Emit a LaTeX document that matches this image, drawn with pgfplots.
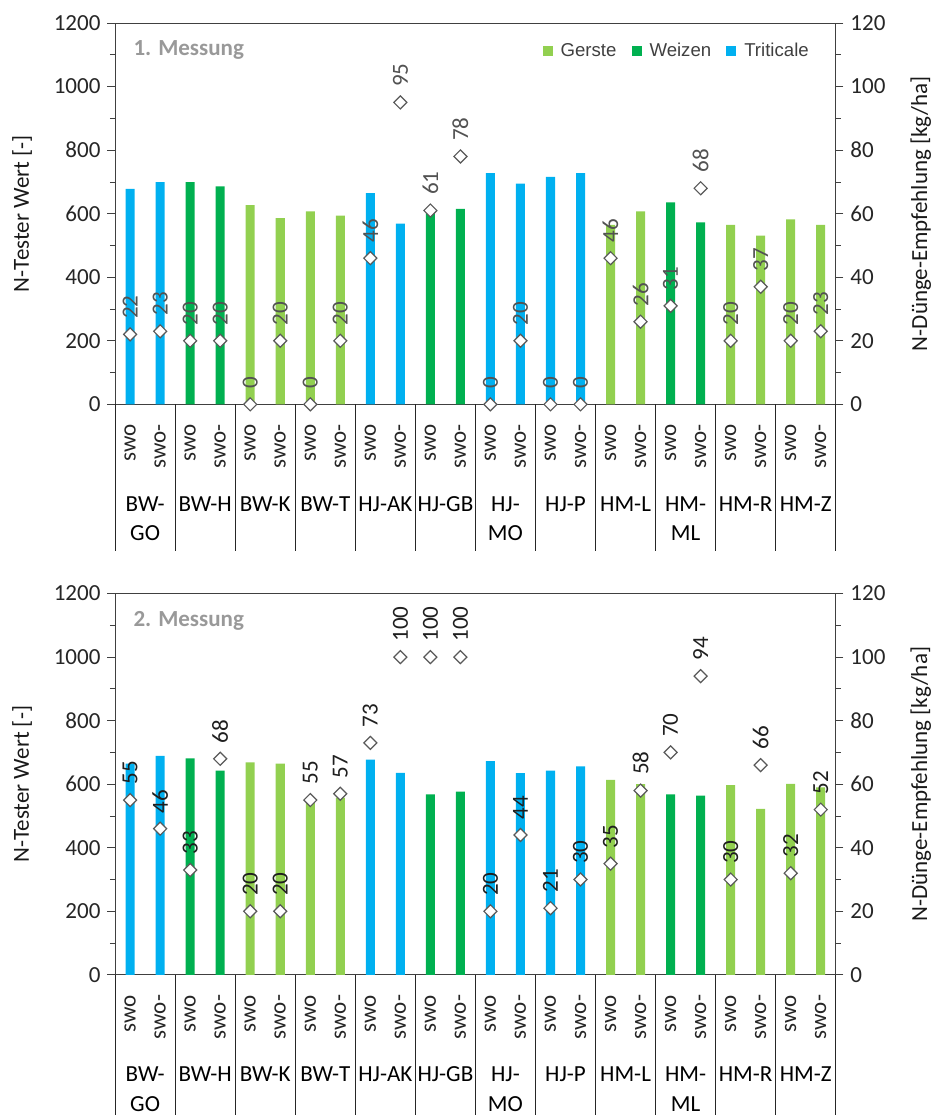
\documentclass[border=0pt]{standalone}
\usepackage{fontspec}
\setmainfont{Carlito}
\newfontfamily\legfont{Liberation Sans}
\usepackage{pgfplots}
\pgfplotsset{compat=1.18}

\definecolor{gerste}{HTML}{92D050}
\definecolor{weizen}{HTML}{00B050}
\definecolor{triti}{HTML}{00B0F0}

\newcommand\fs{\fontsize{11.5pt}{13.8pt}\selectfont}

\pgfplotsset{
  base/.style={
    scale only axis, width=360pt, height=190.5pt,
    xmin=0.5, xmax=24.5, clip=false,
    /pgf/number format/assume math mode=true,
    /pgf/number format/1000 sep={},
    tick label style={font=\fs, text=black!85},
    label style={font=\fs, text=black!90},
    tick align=outside,
    major tick length=3.8pt, minor tick length=2.6pt,
    axis line style={black!75},
    every tick/.style={black!75},
  },
  prim/.style={base,
    ymin=0, ymax=1200, ytick={0,200,...,1200}, minor y tick num=1,
    ytick pos=left, xtick pos=bottom,
    xtick={1,...,24},
    xticklabels={swo,swo-,swo,swo-,swo,swo-,swo,swo-,swo,swo-,swo,swo-,swo,swo-,swo,swo-,swo,swo-,swo,swo-,swo,swo-,swo,swo-},
    xtick style={draw=none},
    xticklabel style={rotate=90, anchor=east, inner xsep=6pt},
    ylabel={N-Tester Wert [-]},
    ylabel style={at={(axis description cs:-0.129,0.5)}, anchor=center},
    ybar, bar width=4.5pt,
  },
  sec/.style={base,
    axis y line*=right, axis x line=none,
    ymin=0, ymax=120, ytick={0,20,...,120}, minor y tick num=1,
    ylabel={N-Dünge-Empfehlung [kg/ha]},
    ylabel style={at={(axis description cs:1.118,0.5)}, anchor=center},
  },
  dia/.style={only marks, mark=square*,
    mark options={fill=white, draw=black!65, rotate=45, line width=0.6pt},
    mark size=2.3pt,
    nodes near coords,
    nodes near coords style={rotate=90, anchor=west, font=\fs, text=#1, inner xsep=7.5pt}},
  sq/.style={legend image code/.code={\fill[##1] (0pt,-2.5pt) rectangle (5pt,2.5pt); \path (7pt,0pt);}},
}

\newcommand\catlayer{%
  \pgfplotsinvokeforeach{0.5,2.5,4.5,6.5,8.5,10.5,12.5,14.5,16.5,18.5,20.5,22.5,24.5}
    {\draw[black!85, line width=0.5pt] (axis cs:##1,0) -- ++(0pt,-73.5pt);}
  \node[anchor=base, font=\fs, inner sep=0pt] at ([yshift=-53.5pt]axis cs:1.5,0) {BW-};
  \node[anchor=base, font=\fs, inner sep=0pt] at ([yshift=-68pt]axis cs:1.5,0) {GO};
  \node[anchor=base, font=\fs, inner sep=0pt] at ([yshift=-53.5pt]axis cs:3.5,0) {BW-H};
  \node[anchor=base, font=\fs, inner sep=0pt] at ([yshift=-53.5pt]axis cs:5.5,0) {BW-K};
  \node[anchor=base, font=\fs, inner sep=0pt] at ([yshift=-53.5pt]axis cs:7.5,0) {BW-T};
  \node[anchor=base, font=\fs, inner sep=0pt] at ([yshift=-53.5pt]axis cs:9.5,0) {HJ-AK};
  \node[anchor=base, font=\fs, inner sep=0pt] at ([yshift=-53.5pt]axis cs:11.5,0) {HJ-GB};
  \node[anchor=base, font=\fs, inner sep=0pt] at ([yshift=-53.5pt]axis cs:13.5,0) {HJ-};
  \node[anchor=base, font=\fs, inner sep=0pt] at ([yshift=-68pt]axis cs:13.5,0) {MO};
  \node[anchor=base, font=\fs, inner sep=0pt] at ([yshift=-53.5pt]axis cs:15.5,0) {HJ-P};
  \node[anchor=base, font=\fs, inner sep=0pt] at ([yshift=-53.5pt]axis cs:17.5,0) {HM-L};
  \node[anchor=base, font=\fs, inner sep=0pt] at ([yshift=-53.5pt]axis cs:19.5,0) {HM-};
  \node[anchor=base, font=\fs, inner sep=0pt] at ([yshift=-68pt]axis cs:19.5,0) {ML};
  \node[anchor=base, font=\fs, inner sep=0pt] at ([yshift=-53.5pt]axis cs:21.5,0) {HM-R};
  \node[anchor=base, font=\fs, inner sep=0pt] at ([yshift=-53.5pt]axis cs:23.5,0) {HM-Z};
}

\begin{document}
\begin{tikzpicture}
\useasboundingbox (-57.5pt,-355pt) rectangle (410pt,202pt);

% ===== 1. Messung =====
\begin{axis}[prim, at={(0pt,0pt)}, anchor=south west,
  legend columns=3,
  legend style={at={(axis description cs:0.977,0.9265)}, anchor=east,
    draw=none, fill=none, font=\legfont\fontsize{9.3pt}{11pt}\selectfont, text=black!75,
    /tikz/every even column/.style={column sep=5.5pt}},
]
\addplot[fill=gerste, draw=none, bar shift=0pt, sq] coordinates
  {(5,627) (6,586) (7,607) (8,594) (17,565) (18,607) (21,565) (22,531) (23,582) (24,565)};
\addlegendentry{Gerste}
\addplot[fill=weizen, draw=none, bar shift=0pt, sq] coordinates
  {(3,699) (4,686) (11,610) (12,615) (19,636) (20,573)};
\addlegendentry{Weizen}
\addplot[fill=triti, draw=none, bar shift=0pt, sq] coordinates
  {(1,678) (2,699) (9,665) (10,569) (13,728) (14,695) (15,716) (16,728)};
\addlegendentry{Triticale}
\catlayer
\node[anchor=west, inner sep=0pt, font=\fontsize{11.5pt}{13pt}\selectfont\bfseries, text=black!40]
  at ([xshift=9pt, yshift=-13.5pt]rel axis cs:0,1) {1. Messung};
\end{axis}
\begin{axis}[sec, at={(0pt,0pt)}, anchor=south west]
\addplot[dia=black!68] coordinates {
 (1,22) (2,23) (3,20) (4,20) (5,0) (6,20) (7,0) (8,20) (9,46) (10,95) (11,61) (12,78)
 (13,0) (14,20) (15,0) (16,0) (17,46) (18,26) (19,31) (20,68) (21,20) (22,37) (23,20) (24,23)};
\end{axis}

% ===== 2. Messung =====
\begin{axis}[prim, at={(0pt,-285pt)}, anchor=south west]
\addplot[fill=gerste, draw=none, bar shift=0pt] coordinates
  {(5,669) (6,665) (7,548) (8,558) (17,614) (18,600) (21,597) (22,522) (23,601) (24,590)};
\addplot[fill=weizen, draw=none, bar shift=0pt] coordinates
  {(3,681) (4,643) (11,568) (12,577) (19,568) (20,564)};
\addplot[fill=triti, draw=none, bar shift=0pt] coordinates
  {(1,665) (2,689) (9,677) (10,636) (13,673) (14,635) (15,643) (16,656)};
\catlayer
\node[anchor=west, inner sep=0pt, font=\fontsize{11.5pt}{13pt}\selectfont\bfseries, text=black!40]
  at ([xshift=9pt, yshift=-13.5pt]rel axis cs:0,1) {2. Messung};
\end{axis}
\begin{axis}[sec, at={(0pt,-285pt)}, anchor=south west]
\addplot[dia=black!88] coordinates {
 (1,55) (2,46) (3,33) (4,68) (5,20) (6,20) (7,55) (8,57) (9,73) (10,100) (11,100) (12,100)
 (13,20) (14,44) (15,21) (16,30) (17,35) (18,58) (19,70) (20,94) (21,30) (22,66) (23,32) (24,52)};
\end{axis}
\end{tikzpicture}
\end{document}
